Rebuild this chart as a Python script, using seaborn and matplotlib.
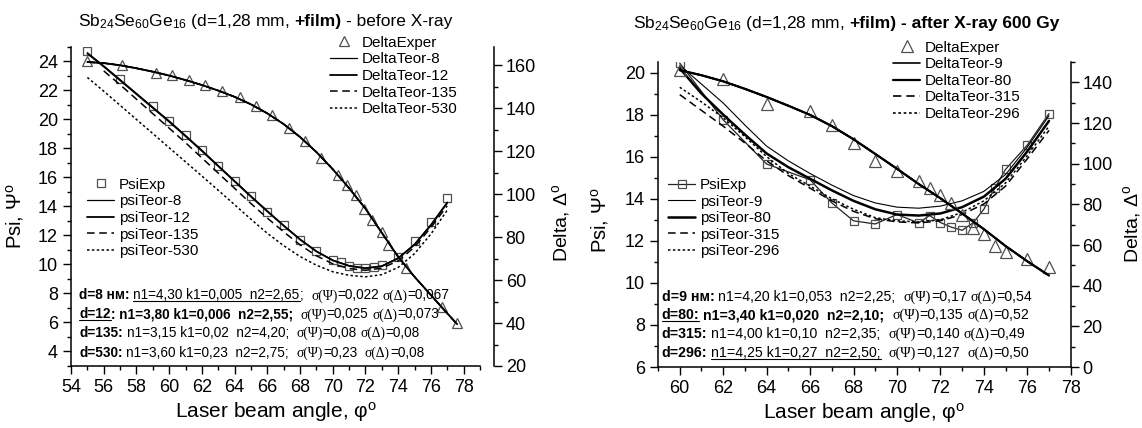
import matplotlib
matplotlib.use('Agg')
import matplotlib.pyplot as plt
import seaborn as sns
from matplotlib.ticker import MultipleLocator
from matplotlib.lines import Line2D
from matplotlib.transforms import IdentityTransform

sns.set_theme(style='ticks')
plt.rcParams['font.family'] = ['Liberation Sans', 'DejaVu Sans']
plt.rcParams['mathtext.fontset'] = 'custom'
plt.rcParams['mathtext.rm'] = 'Liberation Sans'
plt.rcParams['mathtext.it'] = 'Liberation Sans:italic'
plt.rcParams['mathtext.bf'] = 'Liberation Sans:bold'
plt.rcParams['axes.edgecolor'] = 'black'
plt.rcParams['xtick.color'] = 'black'
plt.rcParams['ytick.color'] = 'black'
plt.rcParams['text.color'] = 'black'
plt.rcParams['axes.labelcolor'] = 'black'

# ---------------- left panel: before X-ray ----------------
psi_exp_x_L = [55, 57, 59, 60, 61, 62, 63, 64, 65, 66, 67, 68, 69, 70, 70.5, 71, 71.5, 72, 72.5, 73, 74, 75, 76, 77]
psi_exp_L = [24.7, 22.8, 20.9, 19.9, 18.95, 17.9, 16.8, 15.75, 14.7, 13.65, 12.7, 11.72, 10.92, 10.34, 10.15,
             9.9, 9.78, 9.75, 9.8, 9.95, 10.55, 11.6, 12.92, 14.6]
delta_exp_x_L = [55, 57.1, 59.2, 60.2, 61.2, 62.2, 63.2, 64.3, 65.3, 66.3, 67.3, 68.3, 69.3, 70.3, 70.9, 71.4,
                 71.9, 72.4, 73.0, 73.4, 74.5, 76.7, 77.6]
delta_exp_L = [162.0, 160.0, 156.6, 155.3, 153.0, 150.7, 147.9, 145.3, 141.1, 136.7, 131.0, 124.8, 117.0, 108.8,
               104.2, 99.5, 93.3, 87.9, 82.5, 76.3, 65.4, 47.6, 40.1]

teor_x_L = [55, 56, 57, 58, 59, 60, 61, 62, 63, 64, 65, 66, 67, 68, 69, 70, 71, 72, 73, 74, 75, 76, 77]
psi_t8_L = [24.6, 23.7, 22.75, 21.8, 20.85, 19.9, 18.9, 17.88, 16.82, 15.77, 14.72, 13.7, 12.7, 11.75, 10.92,
            10.3, 9.92, 9.75, 9.9, 10.45, 11.4, 12.75, 14.3]
psi_t12_L = [24.55, 23.65, 22.7, 21.75, 20.8, 19.85, 18.85, 17.83, 16.78, 15.73, 14.68, 13.66, 12.67, 11.72,
             10.9, 10.28, 9.9, 9.74, 9.88, 10.42, 11.37, 12.7, 14.25]
teor135_x_L = [56, 57, 58, 59, 60, 61, 62, 63, 64, 65, 66, 67, 68, 69, 70, 71, 72, 73, 74, 75, 76, 77]
psi_t135_L = [23.35, 22.4, 21.4, 20.4, 19.4, 18.4, 17.35, 16.3, 15.25, 14.2, 13.2, 12.25, 11.35, 10.6, 10.05,
              9.72, 9.6, 9.75, 10.25, 11.2, 12.55, 14.05]
psi_t530_L = [22.9, 21.95, 20.98, 20.0, 19.03, 18.05, 17.08, 16.1, 15.12, 14.12, 13.12, 12.15, 11.3, 10.55, 9.95,
              9.5, 9.25, 9.15, 9.3, 9.8, 10.75, 12.1, 13.75]
delta_teor_x_L = [55, 56, 57, 58, 59, 60, 61, 62, 63, 64, 65, 66, 67, 68, 69, 70, 71, 72, 73, 74, 75, 76, 77, 77.6]
delta_teor_L = [161.5, 161.0, 160.0, 158.6, 157.0, 155.2, 153.1, 150.8, 148.2, 145.3, 141.8, 137.6, 132.6, 126.6,
                119.6, 111.6, 102.8, 93.2, 82.0, 70.8, 61.5, 53.0, 44.5, 39.5]

# ---------------- right panel: after X-ray 600 Gy ----------------
exp_x_R = [60, 62, 64, 66, 67, 68, 69, 70, 71, 71.5, 72, 72.5, 73, 73.5, 74, 74.5, 75, 76, 77]
psi_exp_R = [20.45, 17.75, 15.65, 14.9, 13.8, 12.95, 12.8, 13.25, 12.85, 13.2, 12.87, 12.65, 12.5, 12.85, 13.5,
             14.5, 15.4, 16.55, 18.05]
delta_exp_R = [145.9, 141.5, 129.5, 125.7, 118.9, 110.4, 101.2, 96.3, 91.4, 88.1, 84.8, 80.7, 75.0, 68.6, 65.2,
               59.5, 56.8, 53.3, 49.3]

teor_x_R = [60, 61, 62, 63, 64, 65, 66, 67, 68, 69, 70, 71, 72, 73, 74, 75, 76, 77]
psi_t9_R = [20.35, 19.45, 18.55, 17.5, 16.5, 15.8, 15.2, 14.65, 14.15, 13.8, 13.6, 13.55, 13.65, 13.9, 14.35,
            15.15, 16.45, 17.95]
psi_t80_R = [20.2, 19.0, 18.0, 17.05, 16.15, 15.5, 14.95, 14.4, 13.9, 13.5, 13.25, 13.2, 13.3, 13.6, 14.1,
             14.95, 16.25, 17.7]
psi_t315_R = [18.95, 18.2, 17.45, 16.65, 15.8, 15.1, 14.5, 13.9, 13.4, 13.05, 12.9, 12.85, 12.95, 13.25, 13.75,
              14.6, 15.9, 17.25]
psi_t296_R = [19.3, 18.6, 17.85, 16.95, 16.0, 15.2, 14.6, 14.0, 13.5, 13.1, 12.95, 12.9, 13.0, 13.35, 13.9,
              14.75, 16.05, 17.45]
delta_teor_R = [146.0, 143.5, 140.5, 136.8, 132.8, 128.5, 124.0, 118.5, 112.0, 104.8, 97.5, 90.0, 83.0, 75.5,
                67.8, 59.5, 52.0, 45.0]

# text rows: (text, bold, serif, underline, gap before in spaces)
rows_L = [
    [('d=8 нм:', 1, 0, 0, 0), ('n1=4,30 k1=0,005  n2=2,65', 0, 0, 1, 1), (';', 0, 0, 0, 0),
     ('σ(Ψ)', 0, 1, 0, 2), ('=0,022', 0, 0, 0, 0), ('σ(Δ)', 0, 1, 0, 1), ('=0,067', 0, 0, 0, 0)],
    [('d=12', 1, 0, 1, 0), (': n1=3,80 k1=0,006  n2=2,55;', 1, 0, 0, 0),
     ('σ(Ψ)', 0, 1, 0, 2), ('=0,025', 0, 0, 0, 0), ('σ(Δ)', 0, 1, 0, 1), ('=0,073', 0, 0, 0, 0)],
    [('d=135:', 1, 0, 0, 0), ('n1=3,15 k1=0,02  n2=4,20;', 0, 0, 0, 1),
     ('σ(Ψ)', 0, 1, 0, 2), ('=0,08', 0, 0, 0, 0), ('σ(Δ)', 0, 1, 0, 1), ('=0,08', 0, 0, 0, 0)],
    [('d=530:', 1, 0, 0, 0), ('n1=3,60 k1=0,23  n2=2,75;', 0, 0, 0, 1),
     ('σ(Ψ)', 0, 1, 0, 2), ('=0,23', 0, 0, 0, 0), ('σ(Δ)', 0, 1, 0, 2), ('=0,08', 0, 0, 0, 0)],
]
rows_R = [
    [('d=9 нм:', 1, 0, 0, 0), ('n1=4,20 k1=0,053  n2=2,25;', 0, 0, 0, 1),
     ('σ(Ψ)', 0, 1, 0, 2), ('=0,17', 0, 0, 0, 0), ('σ(Δ)', 0, 1, 0, 1), ('=0,54', 0, 0, 0, 0)],
    [('d=80:', 1, 0, 1, 0), ('n1=3,40 k1=0,020  n2=2,10;', 1, 0, 0, 1),
     ('σ(Ψ)', 0, 1, 0, 2), ('=0,135', 0, 0, 0, 0), ('σ(Δ)', 0, 1, 0, 1), ('=0,52', 0, 0, 0, 0)],
    [('d=315:', 1, 0, 0, 0), ('n1=4,00 k1=0,10  n2=2,35;', 0, 0, 0, 1),
     ('σ(Ψ)', 0, 1, 0, 2), ('=0,140', 0, 0, 0, 0), ('σ(Δ)', 0, 1, 0, 1), ('=0,49', 0, 0, 0, 0)],
    [('d=296:', 1, 0, 0, 0), ('n1=4,25 k1=0,27  n2=2,50;', 0, 0, 1, 1),
     ('σ(Ψ)', 0, 1, 0, 2), ('=0,127', 0, 0, 0, 0), ('σ(Δ)', 0, 1, 0, 2), ('=0,50', 0, 0, 0, 0)],
]
title_L = [('Sb$_{24}$Se$_{60}$Ge$_{16}$ (d=1,28 mm,', 0, 0, 0, 0), ('+film)', 1, 0, 0, 1),
           ('- before X-ray', 0, 0, 0, 1)]
title_R = [('Sb$_{24}$Se$_{60}$Ge$_{16}$ (d=1,28 mm,', 0, 0, 0, 0), ('+film)', 1, 0, 0, 1),
           ('- after X-ray 600 Gy', 1, 0, 0, 1)]

SANS = ['Liberation Sans', 'DejaVu Sans']
SERIF = ['Liberation Serif', 'DejaVu Serif']
DASH = (0, (5, 3))
DOT = (0, (1.6, 1.6))
MK = '#505050'

fig = plt.figure(figsize=(11.42, 4.28), dpi=100)
axL = fig.add_axes([0.0622, 0.1449, 0.3581, 0.7453])
axR = fig.add_axes([0.5762, 0.1425, 0.3614, 0.7126])
axL2 = axL.twinx()
axR2 = axR.twinx()


def line(ax, x, y, lw=1.0, ls='-'):
    sns.lineplot(x=x, y=y, ax=ax, color='black', linewidth=lw, linestyle=ls,
                 estimator=None, sort=False, legend=False)
    return ax.lines[-1]


def points(ax, x, y, marker, ms, ls='none'):
    sns.lineplot(x=x, y=y, ax=ax, color='#222222', linewidth=0.9, linestyle=ls, marker=marker,
                 markersize=ms, markerfacecolor='none', markeredgecolor=MK, markeredgewidth=0.9,
                 estimator=None, sort=False, legend=False)
    return ax.lines[-1]


underlined = []


def write_parts(ax, x, y, parts, size, coords):
    prev = None
    for s, bold, serif, under, gap in parts:
        kw = dict(fontsize=size, fontweight='bold' if bold else 'normal',
                  family=SERIF if serif else SANS, va='baseline', ha='left')
        if prev is None:
            if coords == 'figure fraction':
                t = fig.text(x, y, s, **kw)
            else:
                t = ax.text(x, y, s, transform=ax.transAxes, **kw)
        else:
            t = ax.annotate(s, xy=(1, y), xycoords=(prev, coords), xytext=(gap * 0.278 * size, 0),
                            textcoords='offset points', annotation_clip=False, **kw)
        if under:
            tr = fig.transFigure if coords == 'figure fraction' else ax.transAxes
            underlined.append((t, tr.transform((0, y))[1]))
        prev = t


# left panel
pL_exp = points(axL, psi_exp_x_L, psi_exp_L, 's', 5.5)
l8 = line(axL, teor_x_L, psi_t8_L, 0.9)
l12 = line(axL, teor_x_L, psi_t12_L, 1.3)
l135 = line(axL, teor135_x_L, psi_t135_L, 1.1, DASH)
l530 = line(axL, teor_x_L, psi_t530_L, 1.1, DOT)
dL_exp = points(axL2, delta_exp_x_L, delta_exp_L, '^', 7)
d8 = line(axL2, delta_teor_x_L, delta_teor_L, 0.9)
d12 = line(axL2, delta_teor_x_L, delta_teor_L, 1.3)
d135 = line(axL2, delta_teor_x_L, delta_teor_L, 1.1, DASH)
d530 = line(axL2, delta_teor_x_L, delta_teor_L, 1.1, DOT)

# right panel
pR_exp = points(axR, exp_x_R, psi_exp_R, 's', 6, '-')
r9 = line(axR, teor_x_R, psi_t9_R, 0.8)
r80 = line(axR, teor_x_R, psi_t80_R, 1.8)
r315 = line(axR, teor_x_R, psi_t315_R, 1.1, DASH)
r296 = line(axR, teor_x_R, psi_t296_R, 1.1, DOT)
dR_exp = points(axR2, exp_x_R, delta_exp_R, '^', 8)
e9 = line(axR2, teor_x_R, delta_teor_R, 1.2)
e80 = line(axR2, teor_x_R, delta_teor_R, 1.6)
e315 = line(axR2, teor_x_R, delta_teor_R, 1.2, DASH)
e296 = line(axR2, teor_x_R, delta_teor_R, 1.2, DOT)

axL.set_xlim(54, 79)
axL.set_ylim(3, 25)
axL2.set_ylim(20, 168.5)
axR.set_xlim(59, 78)
axR.set_ylim(6, 20.5)
axR2.set_ylim(0, 150)

for ax, ax2 in ((axL, axL2), (axR, axR2)):
    ax.xaxis.set_major_locator(MultipleLocator(2))
    ax.xaxis.set_minor_locator(MultipleLocator(1))
    ax.yaxis.set_major_locator(MultipleLocator(2))
    ax.yaxis.set_minor_locator(MultipleLocator(1))
    ax2.yaxis.set_major_locator(MultipleLocator(20))
    ax2.yaxis.set_minor_locator(MultipleLocator(10))
    ax.spines['top'].set_visible(False)
    ax.spines['right'].set_visible(False)
    for s in ('top', 'left', 'bottom'):
        ax2.spines[s].set_visible(False)
    for sp in list(ax.spines.values()) + list(ax2.spines.values()):
        sp.set_linewidth(1.1)
    ax.tick_params(which='major', direction='out', length=5.5, width=1.0, labelsize=13, pad=4)
    ax.tick_params(which='minor', direction='out', length=3, width=1.0)
    ax2.tick_params(which='major', direction='out', length=5.5, width=1.0, labelsize=13, pad=3)
    ax2.tick_params(which='minor', direction='out', length=3, width=1.0)
    ax.set_xlabel('Laser beam angle, φ$^{\\rm o}$', fontsize=15)
    ax.set_ylabel('Psi, Ψ$^{\\rm o}$', fontsize=14.5)
    ax2.set_ylabel('Delta, Δ$^{\\rm o}$', fontsize=14)

axL2.spines['right'].set_position(('outward', 10))
axL.xaxis.set_label_coords(0.5, -0.108)
axR.xaxis.set_label_coords(0.5, -0.113)
axL.yaxis.set_label_coords(-0.11, 0.47)
axL2.yaxis.set_label_coords(1.17, 0.45)
axR.yaxis.set_label_coords(-0.115, 0.48)
axR2.yaxis.set_label_coords(1.121, 0.47)

leg_kw = dict(frameon=False, fontsize=11, handlelength=1.8, handletextpad=0.3, labelspacing=0.17,
              borderpad=0, borderaxespad=0, numpoints=1, loc='upper left')
axL.legend([pL_exp, l8, l12, l135, l530], ['PsiExp', 'psiTeor-8', 'psiTeor-12', 'psiTeor-135', 'psiTeor-530'],
           bbox_to_anchor=(0.039, 0.59), **leg_kw)
axL2.legend([dL_exp, d8, d12, d135, d530],
            ['DeltaExper', 'DeltaTeor-8', 'DeltaTeor-12', 'DeltaTeor-135', 'DeltaTeor-530'],
            bbox_to_anchor=(0.633, 1.035), **leg_kw)
axR.legend([pR_exp, r9, r80, r315, r296], ['PsiExp', 'psiTeor-9', 'psiTeor-80', 'psiTeor-315', 'psiTeor-296'],
           bbox_to_anchor=(0.024, 0.62), **leg_kw)
axR2.legend([dR_exp, e9, e80, e315, e296],
            ['DeltaExper', 'DeltaTeor-9', 'DeltaTeor-80', 'DeltaTeor-315', 'DeltaTeor-296'],
            bbox_to_anchor=(0.569, 1.07), **leg_kw)

for parts, yb in zip(rows_L, [0.2085, 0.149, 0.091, 0.028]):
    write_parts(axL2, 0.02, yb, parts, 9.8, 'axes fraction')
for parts, yb in zip(rows_R, [0.2174, 0.1574, 0.0941, 0.0318]):
    write_parts(axR2, 0.009, yb, parts, 10.2, 'axes fraction')
write_parts(axL2, 0.0683, 0.94, title_L, 12.5, 'figure fraction')
write_parts(axR2, 0.5543, 0.935, title_R, 12.5, 'figure fraction')

fig.canvas.draw()
for t, base in underlined:
    bb = t.get_window_extent()
    fig.add_artist(Line2D([bb.x0, bb.x1], [base - 1.6, base - 1.6], transform=IdentityTransform(),
                          color='black', linewidth=0.8))

fig.savefig('out.png', dpi=100)
